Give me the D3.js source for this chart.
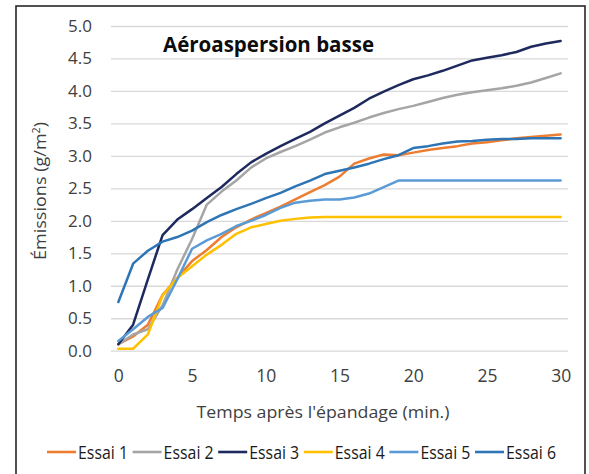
<!DOCTYPE html>
<html>
<head>
<meta charset="utf-8">
<script src="https://cdn.jsdelivr.net/npm/d3@7"></script>
<style>
  body { margin: 0; background: #fff; }
  svg { display: block; }
  .tick text { font-family: "Open Sans", sans-serif; fill: #404040; }
</style>
</head>
<body>
<svg id="chart" width="589" height="474"></svg>
<script>
// minutes after spreading, 0..30
var minutes = d3.range(0, 31);
var seriesNames = ["Essai 1", "Essai 2", "Essai 3", "Essai 4", "Essai 5", "Essai 6"];
var seriesColors = ["#ED7D31", "#A5A5A5", "#1E2A5E", "#FFC000", "#5B9BD5", "#2E75B6"];
var xTicks = [0, 5, 10, 15, 20, 25, 30];
var yTicks = [0, 0.5, 1, 1.5, 2, 2.5, 3, 3.5, 4, 4.5, 5];

// émissions (g/m2), one value per minute
var essai1 = [0.10, 0.22, 0.40, 0.86, 1.12, 1.38, 1.55, 1.75, 1.90, 2.02, 2.12, 2.22, 2.33, 2.44, 2.55, 2.68,
              2.88, 2.96, 3.02, 3.01, 3.05, 3.09, 3.12, 3.15, 3.19, 3.21, 3.24, 3.27, 3.29, 3.31, 3.33];
var essai2 = [0.10, 0.25, 0.33, 0.70, 1.25, 1.72, 2.25, 2.45, 2.62, 2.82, 2.96, 3.06, 3.15, 3.25, 3.36, 3.44,
              3.51, 3.59, 3.66, 3.72, 3.77, 3.83, 3.89, 3.94, 3.98, 4.01, 4.04, 4.08, 4.13, 4.20, 4.27];
var essai3 = [0.10, 0.40, 1.10, 1.78, 2.02, 2.18, 2.35, 2.52, 2.72, 2.90, 3.03, 3.15, 3.26, 3.37, 3.50, 3.62,
              3.74, 3.88, 3.99, 4.09, 4.18, 4.24, 4.31, 4.39, 4.47, 4.51, 4.55, 4.60, 4.68, 4.73, 4.77];
var essai4 = [0.03, 0.03, 0.25, 0.85, 1.12, 1.30, 1.48, 1.63, 1.80, 1.90, 1.95, 2.00, 2.03, 2.05, 2.06, 2.06,
              2.06, 2.06, 2.06, 2.06, 2.06, 2.06, 2.06, 2.06, 2.06, 2.06, 2.06, 2.06, 2.06, 2.06, 2.06];
var essai5 = [0.15, 0.33, 0.52, 0.66, 1.10, 1.57, 1.70, 1.80, 1.92, 2.00, 2.09, 2.20, 2.28, 2.31, 2.33, 2.33,
              2.36, 2.42, 2.52, 2.62, 2.62, 2.62, 2.62, 2.62, 2.62, 2.62, 2.62, 2.62, 2.62, 2.62, 2.62];
var essai6 = [0.75, 1.34, 1.54, 1.68, 1.75, 1.85, 1.98, 2.09, 2.18, 2.26, 2.35, 2.43, 2.53, 2.62, 2.72, 2.77,
              2.82, 2.88, 2.95, 3.01, 3.12, 3.15, 3.19, 3.22, 3.23, 3.25, 3.26, 3.26, 3.27, 3.27, 3.27];

var seriesValues = [essai1, essai2, essai3, essai4, essai5, essai6];

function drawChart() {
    var svg = d3.select("#chart");
    var plot = {left: 111, right: 568, top: 26, bottom: 350.7};
    var width = plot.right - plot.left;
    var height = plot.bottom - plot.top;

    // frame around the whole chart
    svg.append("rect")
        .attr("x", 16)
        .attr("y", 6)
        .attr("width", 569)
        .attr("height", 480)
        .attr("fill", "none")
        .attr("stroke", "#262626")
        .attr("stroke-width", 1.6);

    // category style axis: every minute centred in its slot
    var x = d3.scaleLinear()
        .domain([-0.5, 30.5])
        .range([0, width]);

    var y = d3.scaleLinear()
        .domain([0, 5])
        .range([height, 0]);

    var g = svg.append("g")
        .attr("transform", "translate(" + plot.left + "," + plot.top + ")");

    var yAxis = d3.axisLeft(y)
        .tickValues(yTicks)
        .tickFormat(d3.format(".1f"))
        .tickSize(-width)
        .tickPadding(19);

    var yg = g.append("g").call(yAxis);
    yg.select(".domain").remove();
    yg.selectAll(".tick line")
        .attr("stroke", "#d9d9d9")
        .attr("stroke-width", 1.3);
    yg.selectAll(".tick text")
        .style("font-size", "17px");

    var xAxis = d3.axisBottom(x)
        .tickValues(xTicks)
        .tickSize(0)
        .tickPadding(19);

    var xg = g.append("g")
        .attr("transform", "translate(0," + height + ")")
        .call(xAxis);
    xg.select(".domain").remove();
    xg.selectAll(".tick text")
        .style("font-size", "17.5px");

    var line = d3.line()
        .x(function(d, i) { return x(minutes[i]); })
        .y(function(d) { return y(d); });

    g.selectAll(".serie")
        .data(seriesValues)
        .enter()
        .append("path")
        .classed("serie", true)
        .attr("d", line)
        .attr("fill", "none")
        .attr("stroke", function(d, i) { return seriesColors[i]; })
        .attr("stroke-width", 2.5)
        .attr("stroke-linejoin", "round")
        .attr("stroke-linecap", "round");

    // title inside the plot
    svg.append("text")
        .attr("x", 163)
        .attr("y", 52)
        .attr("textLength", 211)
        .attr("lengthAdjust", "spacingAndGlyphs")
        .style("font-family", "'Open Sans', sans-serif")
        .style("font-weight", "bold")
        .style("font-size", "21px")
        .style("fill", "#0d0d0d")
        .text("Aéroaspersion basse");

    svg.append("text")
        .attr("transform", "translate(46,191) rotate(-90)")
        .attr("text-anchor", "middle")
        .attr("textLength", 138)
        .attr("lengthAdjust", "spacingAndGlyphs")
        .style("font-family", "'Open Sans', sans-serif")
        .style("font-size", "17px")
        .style("fill", "#404040")
        .html("Émissions (g/m<tspan dy='-6' font-size='10px'>2</tspan><tspan dy='6'>)</tspan>");

    svg.append("text")
        .attr("x", 323)
        .attr("y", 418)
        .attr("text-anchor", "middle")
        .attr("textLength", 253)
        .attr("lengthAdjust", "spacingAndGlyphs")
        .style("font-family", "'Open Sans', sans-serif")
        .style("font-size", "17px")
        .style("fill", "#404040")
        .text("Temps après l'épandage (min.)");

    // legend
    var legend = svg.append("g")
        .attr("transform", "translate(47,452)");

    var items = legend.selectAll(".legend-item")
        .data(seriesNames)
        .enter()
        .append("g")
        .classed("legend-item", true)
        .attr("transform", function(d, i) { return "translate(" + (i * 85.6) + ",0)"; });

    items.append("line")
        .attr("x1", 0)
        .attr("x2", 29)
        .attr("y1", 0)
        .attr("y2", 0)
        .attr("stroke", function(d, i) { return seriesColors[i]; })
        .attr("stroke-width", 2.6);

    items.append("text")
        .attr("x", 31)
        .attr("y", 6.5)
        .attr("textLength", 50)
        .attr("lengthAdjust", "spacingAndGlyphs")
        .style("font-family", "'Open Sans', sans-serif")
        .style("font-size", "18px")
        .style("fill", "#1a1a1a")
        .text(function(d) { return d; });
}

drawChart();
</script>
</body>
</html>
